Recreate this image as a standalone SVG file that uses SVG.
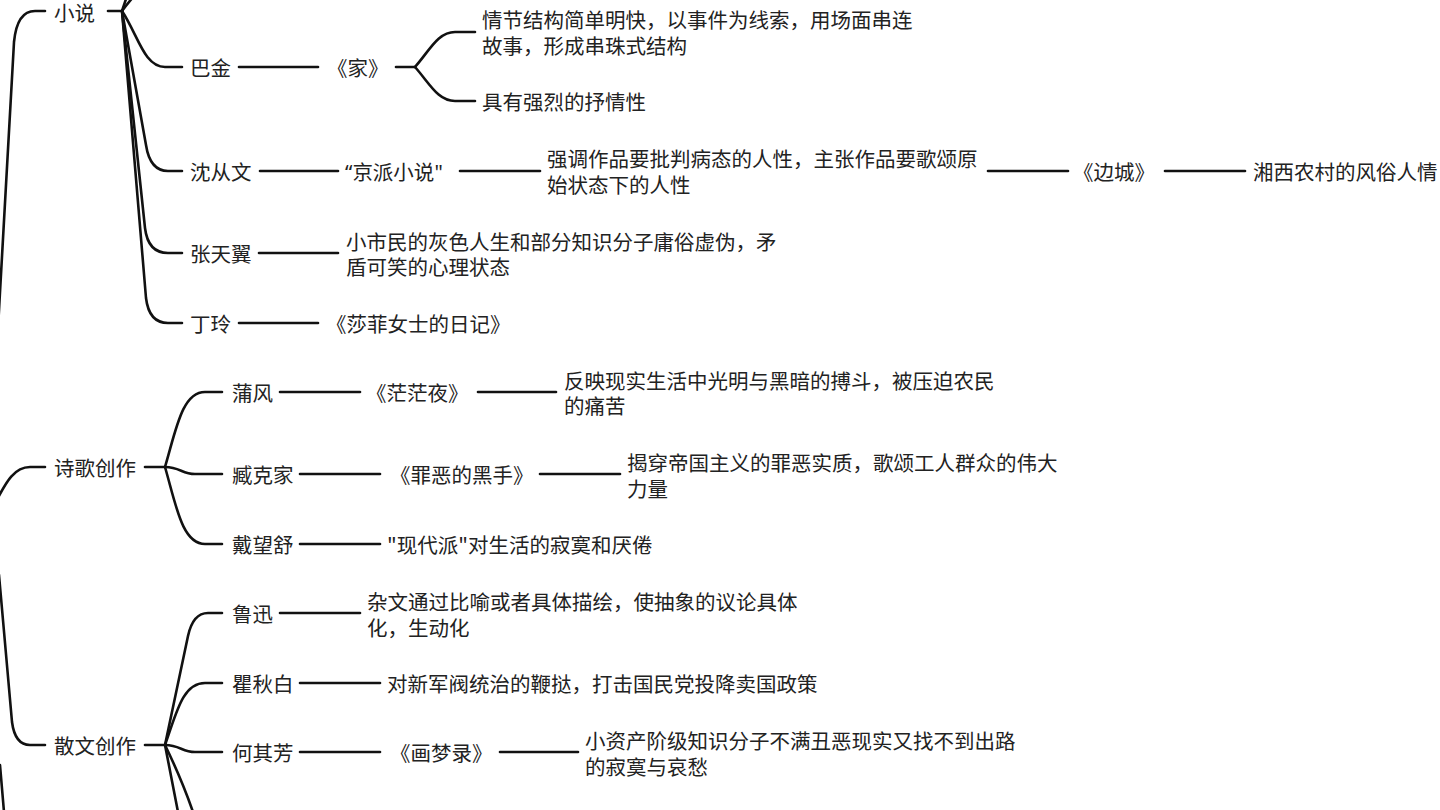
<svg xmlns="http://www.w3.org/2000/svg" width="1440" height="810" viewBox="0 0 1440 810">
<style>
text{font-family:"Noto Sans CJK SC","Noto Sans",sans-serif;font-size:20.5px;fill:#222;dominant-baseline:central}
.q{font-family:"Noto Sans",sans-serif}
.c path{fill:none;stroke:#111;stroke-width:2.6;stroke-linecap:round;stroke-linejoin:round}
</style>
<rect width="1440" height="810" fill="#fff"/>
<g class="c" id="connectors">
<path d="M-2,328 L14,42 Q17,11 35,11 H45"/>
<path d="M-6,505 C4,487 12,467 30,467 H45"/>
<path d="M-1,575 L12,722 Q15,745 30,745 H45"/>
<path d="M0,765 L4,812"/>
<path d="M108,11 H122"/>
<path d="M122,11 L127,-4"/>
<path d="M122,11 Q128,3 134,-4"/>
<path d="M122,11 C138,35 144,67 165,67 H182"/>
<path d="M122,11 L146,145 Q150,171 168,171 H182"/>
<path d="M122,11 L145,228 Q148,253 168,253 H182"/>
<path d="M122,11 L146,298 Q149,323 168,323 H182"/>
<path d="M239,67 H318"/>
<path d="M396,67 H415"/>
<path d="M415,67 C430,50 438,32 455,32 H475"/>
<path d="M415,67 C430,84 438,101 455,101 H475"/>
<path d="M260,171 H338"/>
<path d="M460,171 H540"/>
<path d="M988,171 H1068"/>
<path d="M1165,171 H1245"/>
<path d="M259,253 H338"/>
<path d="M239,323 H318"/>
<path d="M145,467 H165"/>
<path d="M165,467 C176,430 182,392 205,392 H222"/>
<path d="M165,467 C180,467 182,474 195,474 H222"/>
<path d="M165,467 C176,505 182,544 205,544 H222"/>
<path d="M280,392 H360"/>
<path d="M478,392 H556"/>
<path d="M300,474 H380"/>
<path d="M540,474 H620"/>
<path d="M300,544 H380"/>
<path d="M145,745 H165"/>
<path d="M165,745 L188,636 Q193,613 208,613 H222"/>
<path d="M165,745 C176,715 182,683 205,683 H222"/>
<path d="M165,745 C180,745 182,752 195,752 H222"/>
<path d="M165,745 L178,812"/>
<path d="M165,745 Q182,780 193,812"/>
<path d="M280,613 H360"/>
<path d="M300,683 H380"/>
<path d="M300,752 H380"/>
<path d="M500,752 H578"/>
</g>
<g id="n-xiaoshuo"><text x="54" y="12">小说</text></g>
<g id="n-bajin"><text x="190" y="67">巴金</text></g>
<g id="n-jia"><text x="327" y="67">《家》</text></g>
<g id="n-jia-1"><text x="482" y="19">情节结构简单明快，以事件为线索，用场面串连<tspan x="482" dy="26">故事，形成串珠式结构</tspan></text></g>
<g id="n-jia-2"><text x="482" y="101">具有强烈的抒情性</text></g>
<g id="n-shencongwen"><text x="190" y="171">沈从文</text></g>
<g id="n-jingpai"><text x="345" y="171"><tspan class="q">“</tspan>京派小说<tspan class="q">"</tspan></text></g>
<g id="n-jingpai-1"><text x="547" y="158">强调作品要批判病态的人性，主张作品要歌颂原<tspan x="547" dy="26">始状态下的人性</tspan></text></g>
<g id="n-biancheng"><text x="1073" y="171">《边城》</text></g>
<g id="n-xiangxi"><text x="1253" y="171">湘西农村的风俗人情</text></g>
<g id="n-zhangtianyi"><text x="190" y="253">张天翼</text></g>
<g id="n-zhangtianyi-1"><text x="346" y="241">小市民的灰色人生和部分知识分子庸俗虚伪，矛<tspan x="346" dy="25">盾可笑的心理状态</tspan></text></g>
<g id="n-dingling"><text x="190" y="323">丁玲</text></g>
<g id="n-shafei"><text x="326" y="323">《莎菲女士的日记》</text></g>
<g id="n-shige"><text x="54" y="467">诗歌创作</text></g>
<g id="n-pufeng"><text x="232" y="392">蒲风</text></g>
<g id="n-mangmangye"><text x="366" y="392">《茫茫夜》</text></g>
<g id="n-mangmangye-1"><text x="564" y="380">反映现实生活中光明与黑暗的搏斗，被压迫农民<tspan x="564" dy="25">的痛苦</tspan></text></g>
<g id="n-zangkejia"><text x="232" y="474">臧克家</text></g>
<g id="n-zuie"><text x="390" y="474">《罪恶的黑手》</text></g>
<g id="n-zuie-1"><text x="627" y="462">揭穿帝国主义的罪恶实质，歌颂工人群众的伟大<tspan x="627" dy="26">力量</tspan></text></g>
<g id="n-daiwangshu"><text x="232" y="544">戴望舒</text></g>
<g id="n-xiandaipai"><text x="387" y="544">"现代派"对生活的寂寞和厌倦</text></g>
<g id="n-sanwen"><text x="54" y="745">散文创作</text></g>
<g id="n-luxun"><text x="232" y="613">鲁迅</text></g>
<g id="n-luxun-1"><text x="367" y="601">杂文通过比喻或者具体描绘，使抽象的议论具体<tspan x="367" dy="26">化，生动化</tspan></text></g>
<g id="n-quqiubai"><text x="232" y="683">瞿秋白</text></g>
<g id="n-quqiubai-1"><text x="387" y="683">对新军阀统治的鞭挞，打击国民党投降卖国政策</text></g>
<g id="n-heqifang"><text x="232" y="752">何其芳</text></g>
<g id="n-huamenglu"><text x="390" y="752">《画梦录》</text></g>
<g id="n-huamenglu-1"><text x="585" y="740">小资产阶级知识分子不满丑恶现实又找不到出路<tspan x="585" dy="26">的寂寞与哀愁</tspan></text></g>
</svg>
